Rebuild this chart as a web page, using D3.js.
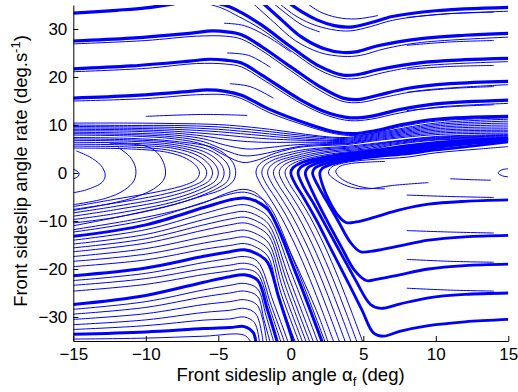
<!DOCTYPE html>
<html><head><meta charset="utf-8">
<script src="https://cdn.jsdelivr.net/npm/d3@7"></script>
<style>
body{margin:0;background:#fff;}
svg{display:block;}
text{font-family:"Liberation Sans",Arial,Helvetica,sans-serif;}
</style></head>
<body>
<svg id="c" width="518" height="392"></svg>
<script>
const xTicks = [-15,-10,-5,0,5,10,15];
const yTicks = [-30,-20,-10,0,10,20,30];

// thick upper bundles (angle deg, rate deg/s)
const upperThick = [
 [[-15,33.3],[-12,33.9],[-10,34.4],[-8,35.3]],
 [[-0.2,35.6],[0.8,33.5],[1.8,31.9],[3,30.7],[4.1,30.4],[5.5,31.3],[7,32.6],[10,33.8],[15,34.5]],
 [[-2,35.6],[-0.6,31.8],[0.7,28.4],[2.2,26],[3.6,25.1],[4.6,25.3],[6,26.5],[9,28],[12,28.7],[15,29.1]],
 [[-5.4,35.6],[-4.2,34.6],[-3.4,33.4],[-2,30.8],[0,26.3],[2,22.2],[3.6,20.4],[4.6,20.5],[6,21.5],[9,23],[12,23.6],[15,23.9]],
 [[-15,27.5],[-11,28.1],[-7,29.1],[-5.4,29.6],[-4.4,29.4],[-3.4,28.8],[-2,26.3],[0,22.1],[2,18],[3.6,15.6],[4.6,15.3],[6,16.2],[8,17.6],[11,18.6],[15,19.1]],
 [[-15,21.7],[-11,22.3],[-7,23.3],[-5.6,23.7],[-4.5,23.5],[-3.4,22.9],[-2,20.4],[0.7,15.2],[2.5,12.6],[4.1,11.5],[5.5,11.8],[7.5,13.2],[10,14.4],[15,15.2]],
 [[-15,15.6],[-11,16.1],[-7,17],[-5.8,17.3],[-4.5,17],[-3.4,16.2],[-1.5,13.3],[1.2,10.2],[3,8.6],[4.3,8.2],[5.8,8.8],[7.5,10],[10,11.2],[15,11.8]]
];
const upperThin = [
 [[-0.9,35.6],[0.2,33],[1.4,31.1],[2.8,29.9],[4.1,29.6],[5.5,30.5],[7,31.8],[10,33],[15,33.7]],
 [[-2.7,35.6],[-1.2,31.5],[0.3,27.6],[2,25.1],[3.6,24.3],[4.8,24.5],[6.5,25.9],[9,27.2],[15,28.3]],
 [[-6.2,35.6],[-4.8,34.4],[-3.6,32.6],[-2,29.9],[0,25.5],[2,21.4],[3.6,19.7],[4.8,19.8],[6.5,21],[9,22.3],[15,23.2]],
 [[-15,26.9],[-10,27.6],[-6.5,28.5],[-4.5,28.5],[-3.4,27.9],[-2,25.5],[0,21.3],[2,17.2],[3.6,14.9],[4.8,14.7],[6.5,15.8],[9,17.2],[15,18.4]],
 [[-15,21.1],[-10,21.8],[-6.5,22.8],[-4.5,22.7],[-3.4,22.1],[-2,19.6],[0.7,14.5],[2.5,12],[4.1,10.9],[5.5,11.2],[7.5,12.5],[10,13.7],[15,14.5]],
 [[-15,15],[-10,15.5],[-6.5,16.3],[-4.5,16.3],[-3.4,15.5],[-1.5,12.6],[1.2,9.7],[3,8.2],[4.3,7.8],[5.8,8.4],[7.5,9.6],[10,10.8],[15,11.5]],
 [[1,35.6],[2,33.6],[3.2,32.4],[4.5,32.1],[6,32.8]],
 [[-1.3,35.6],[-0.4,33.4],[0.8,30.8],[2,29.4]],
 [[-4.6,31.2],[-3.2,30.7],[-1.6,28.4],[0,25.2]],
 [[-4.4,25],[-2.9,24.5],[-1.4,22]],
 [[-4.2,18.6],[-2.8,18],[-1.2,15.6]]
];
// converging bundle from the left (rate 8-10 deg/s)
const bundleLines = [
 [[-15,10.4],[-11,10.4],[-8,10.3],[-5,10.1],[-2,9.3],[0,8.5],[2,7.7],[3.8,7.4],[6,8.4],[10,10.4],[15,11.2]],
 [[-15,10.0],[-11,9.9],[-8,9.9],[-5,9.6],[-2,8.8],[0,8.1],[2,7.5],[3.8,7.2],[6,8.2],[10,10.1],[15,10.8]],
 [[-15,9.7],[-11,9.6],[-8,9.5],[-5,9.1],[-2,8.3],[0,7.7],[2,7.2],[3.8,7.0],[6,8.0],[10,9.8],[15,10.4]],
 [[-15,9.4],[-11,9.3],[-8,9.1],[-5,8.6],[-2,7.8],[0,7.3],[2,6.9],[3.8,6.8],[6,7.8],[10,9.5],[15,10.0]],
 [[-15,9.1],[-11,9.0],[-8,8.7],[-5,8.0],[-2,7.2],[0,6.9],[2,6.7],[3.8,6.6],[6,7.6],[10,9.2],[15,9.6]],
 [[-15,8.8],[-11,8.7],[-8,8.3],[-6,7.7],[-4,6.8],[-2,6.4],[0,6.4],[2,6.4],[3.8,6.4],[6,7.4],[10,8.9],[15,9.2]],
 [[-15,8.5],[-11,8.3],[-8,7.9],[-6,7.1],[-4.5,5.8],[-3,5],[-1.5,5.3],[0,5.8],[2,6.1],[3.8,6.2],[6,7.2],[10,8.6],[15,8.9]],
 [[-15,8.2],[-11,8],[-8,7.5],[-6,6.5],[-4.5,4.7],[-3.3,3.6],[-2.2,3.8],[-1,4.6],[0.5,5.5],[2,5.9],[3.8,6.1],[6,7.0],[10,8.3],[15,8.6]],
 [[-15,7.9],[-11,7.7],[-8,7.1],[-6,5.9],[-4.5,3.6],[-3.3,2.2],[-2.3,2.7],[-1,4.2],[0.5,5.3],[2,5.7],[3.8,5.9],[6,6.8],[10,8.0],[15,8.3]]
];
// arcs turning back to the left of the saddle
const arcs = [
 [[-15,0.8],[-14.6,0],[-14.7,-0.8],[-15,-1.2]],
 [[-14.8,4.6],[-13.9,3.4],[-13.1,1.6],[-12.8,-0.4],[-13.0,-1.9],[-14.1,-3.5],[-15,-4.1]],
 [[-11.9,5.3],[-11.1,3.4],[-10.7,1],[-10.8,-1.5],[-11.5,-3.6],[-12.8,-5.3],[-15,-6.6]],
 [[-12.5,6.2],[-10,5.6],[-9.2,4.2],[-8.7,1.5],[-8.7,-1],[-9.3,-3],[-11,-5.3],[-15,-7.8]],
 [[-15,5.2],[-11,5.0],[-8.5,4.3],[-7.2,3],[-6.5,1.4],[-6.3,0],[-6.5,-1.3],[-7.2,-2.4],[-9,-3.8],[-12,-5.4],[-15,-7.0]],
 [[-15,5.6],[-11,5.4],[-8.3,4.7],[-6.8,3.3],[-6.0,1.5],[-5.8,0],[-6,-1.4],[-6.7,-2.6],[-8.6,-4.3],[-12,-6.2],[-15,-7.6]],
 [[-15,6.0],[-11,5.8],[-8,5.1],[-6.4,3.6],[-5.6,1.6],[-5.4,0],[-5.6,-1.5],[-6.3,-2.8],[-8.3,-4.8],[-12,-6.9],[-15,-8.3]],
 [[-15,6.4],[-11,6.2],[-8,5.5],[-6.1,3.9],[-5.2,1.7],[-5.0,0],[-5.2,-1.6],[-6,-3.1],[-8,-5.3],[-12,-7.6],[-15,-9.0]],
 [[-15,6.8],[-11,6.6],[-8,5.9],[-5.8,4.2],[-4.8,1.8],[-4.6,0],[-4.8,-1.7],[-5.6,-3.3],[-7.8,-5.8],[-12,-8.4],[-15,-9.7]],
 [[-15,7.1],[-11,6.9],[-8,6.3],[-5.5,4.6],[-4.4,2],[-4.2,0],[-4.4,-1.8],[-5.2,-3.4],[-7.6,-6.2],[-12,-9.2],[-15,-10.4]],
 [[-15,7.4],[-11,7.2],[-8,6.6],[-5.1,5],[-4.0,2.2],[-3.8,0],[-4.0,-1.8],[-4.8,-3.5],[-6,-4.7],[-8,-6.5],[-11,-8.6],[-15,-11]]
];
// lower-left family: hump near -3 deg then fall away
const lowerThick = [
 [[-15,-13.2],[-10,-10.8],[-6,-7.2],[-4.2,-5.6],[-3.2,-5.2],[-2.3,-6.0],[-1.5,-7.9],[0.3,-20.5],[2.2,-35.5]],
 [[-15,-21.4],[-10,-19.8],[-6,-17.35],[-4.2,-16.4],[-3.2,-16.0],[-2.3,-16.9],[-1.6,-18.6],[-0.8,-26.2],[0.2,-35.5]],
 [[-15,-27.4],[-10,-25.5],[-6,-22.75],[-4.2,-21.6],[-3.2,-21.2],[-2.3,-22.3],[-1.6,-28.6],[-0.9,-35.5]],
 [[-15,-33.6],[-10,-33.1],[-6,-32.4],[-4.2,-32.2],[-3.2,-32],[-2.6,-33.2],[-2.4,-35.5]]
];
const lowerThin = [
 [[-15,-11.8],[-11,-9.8],[-8,-7.9],[-6,-6.2],[-4.5,-4.3],[-3.3,-3.4],[-2.5,-4.0],[-1.8,-6.0],[-1,-10.5],[0,-16.7],[1,-23.3],[2,-30.4],[2.6,-35.5]],
 [[-15,-12.3],[-10,-9.8],[-6,-6.1],[-4.2,-4.4],[-3.2,-4.0],[-2.3,-4.9],[-1.5,-6.8],[0.4,-19.8],[2.4,-35.5]],
 [[-15,-14.0],[-10,-11.8],[-6,-8.45],[-4.2,-7.0],[-3.2,-6.6],[-2.3,-7.5],[-1.5,-9.4],[0.1,-21.3],[1.9,-35.5]],
 [[-15,-14.8],[-10,-12.8],[-6,-9.7],[-4.2,-8.4],[-3.2,-8.0],[-2.3,-8.9],[-1.5,-10.8],[-0.1,-22],[1.6,-35.5]],
 [[-15,-15.6],[-10,-13.7],[-6,-10.8],[-4.2,-9.6],[-3.2,-9.2],[-2.3,-10.1],[-1.5,-12],[-0.25,-22.7],[1.35,-35.5]],
 [[-15,-16.4],[-10,-14.6],[-6,-11.9],[-4.2,-10.8],[-3.2,-10.4],[-2.3,-11.3],[-1.5,-13.2],[-0.4,-23.3],[1.1,-35.5]],
 [[-15,-17.4],[-10,-15.75],[-6,-13.3],[-4.2,-12.3],[-3.2,-11.9],[-2.3,-12.8],[-1.5,-14.7],[-0.55,-24.1],[0.85,-35.5]],
 [[-15,-18.4],[-10,-16.9],[-6,-14.6],[-4.2,-13.7],[-3.2,-13.3],[-2.3,-14.2],[-1.5,-16.1],[-0.7,-24.8],[0.6,-35.5]],
 [[-15,-19.5],[-10,-18.1],[-6,-15.9],[-4.2,-15.1],[-3.2,-14.7],[-2.3,-15.6],[-1.55,-17.5],[-0.85,-25.6],[0.35,-35.5]],
 [[-15,-22.4],[-10,-20.9],[-6,-18.65],[-4.2,-17.8],[-3.2,-17.4],[-2.3,-18.4],[-1.2,-26.9],[-0.15,-35.5]],
 [[-15,-23.4],[-10,-22],[-6,-19.95],[-4.2,-19.2],[-3.2,-18.8],[-2.3,-19.8],[-1.35,-27.6],[-0.4,-35.5]],
 [[-15,-24.6],[-10,-23.2],[-6,-21.15],[-4.2,-20.4],[-3.2,-20],[-2.3,-21.0],[-1.45,-28.2],[-0.65,-35.5]],
 [[-15,-28.4],[-10,-26.8],[-6,-24.35],[-4.2,-23.4],[-3.2,-23],[-2.3,-24.1],[-1.7,-29.8],[-1.15,-35.5]],
 [[-15,-29.4],[-10,-28],[-6,-25.8],[-4.2,-25],[-3.2,-24.6],[-2.3,-25.7],[-1.85,-30.6],[-1.4,-35.5]],
 [[-15,-30.5],[-10,-29.3],[-6,-27.4],[-4.2,-26.8],[-3.2,-26.4],[-2.3,-27.6],[-1.65,-35.5]],
 [[-15,-31.6],[-10,-30.6],[-6,-29.05],[-4.2,-28.6],[-3.2,-28.2],[-2.4,-29.4],[-1.9,-35.5]],
 [[-15,-32.6],[-10,-31.8],[-6,-30.65],[-4.2,-30.4],[-3.2,-30],[-2.5,-31.2],[-2.15,-35.5]],
 [[-15,-34.6],[-10,-34.4],[-6,-34],[-3.2,-33.8],[-2.7,-35.5]]
];
// curves coming up from below and turning right
const cCurves = [
 [[3.0,-35.5],[2.2,-29],[1.3,-22],[0.3,-15],[-0.7,-9],[-1.5,-5],[-2.1,-2.2],[-2.4,0],[-2.25,1.5],[-1.7,2.8],[-0.6,3.9],[1,4.9],[2.5,5.3],[4,5.6],[7,6.6],[10,7.6],[15,8.0]],
 [[3.4,-35.5],[2.6,-29],[1.7,-22],[0.7,-15],[-0.3,-9],[-1.1,-5],[-1.7,-2.2],[-2.0,0],[-1.85,1.4],[-1.3,2.6],[-0.2,3.7],[1.3,4.7],[2.8,5.15],[4.3,5.45],[7,6.5],[10,7.45],[15,7.85]],
 [[3.8,-35.5],[3.0,-29],[2.1,-22],[1.1,-15],[0.1,-9],[-0.7,-5],[-1.3,-2.2],[-1.6,0],[-1.45,1.3],[-0.9,2.5],[0.2,3.5],[1.6,4.5],[3.1,5.0],[4.6,5.3],[7,6.4],[10,7.3],[15,7.7]],
 [[4.2,-35.5],[3.4,-29],[2.5,-22],[1.5,-15],[0.5,-9],[-0.3,-5],[-0.9,-2.2],[-1.2,0],[-1.05,1.2],[-0.5,2.4],[0.6,3.4],[2,4.3],[3.4,4.8],[4.9,5.15],[7,6.2],[10,7.15],[15,7.55]],
 [[4.6,-35.5],[3.8,-29],[2.9,-22],[1.9,-15],[0.9,-9],[0.1,-5],[-0.5,-2.2],[-0.8,0],[-0.65,1.2],[-0.1,2.3],[1,3.3],[2.4,4.2],[3.8,4.65],[5.2,5.0],[7,6.0],[10,7],[15,7.4]],
 [[5.0,-35.5],[4.2,-29],[3.3,-22],[2.3,-15],[1.3,-9],[0.5,-5],[-0.1,-2.2],[-0.4,0],[-0.25,1.1],[0.3,2.2],[1.4,3.2],[2.8,4],[4.2,4.5],[5.5,4.9],[7,5.8],[10,6.85],[15,7.25]],
 [[9.5,-2.0],[7,-2.6],[5.3,-3.3],[4.2,-3.0],[3.2,-1.7],[2.6,0],[2.8,1.2],[3.5,2.0],[4.5,2.5],[6,2.9],[8,3.3],[10,4.2],[13,5.0],[15,5.5]],
 [[6.5,-3.3],[5.2,-3.1],[4.2,-2.3],[3.4,-1.0],[3.1,0.4],[3.4,1.4],[4.2,2.0],[5.5,2.3],[6.5,2.4]]
];
// lower-right bundles
const lowerRightThick = [
 [[15,-30.5],[12,-31],[9.5,-31.8],[7.5,-33],[6.4,-34],[5.7,-33.3],[4.9,-28.5],[3.9,-22.5],[2.8,-16],[1.8,-10],[0.9,-5.2],[0.3,-2.2],[0,0],[0.15,1.1],[0.7,2.1],[1.8,3],[3.2,3.8],[4.6,4.3],[6,4.8],[8,5.7],[11,6.6],[15,7.1]],
 [[15,-25],[12,-25.3],[9.5,-26],[7.5,-27.3],[6.2,-28.2],[5.5,-27.4],[4.5,-22.5],[3.5,-17],[2.5,-11.5],[1.6,-6.5],[0.9,-3],[0.5,0],[0.65,1.1],[1.2,2],[2.3,2.9],[3.7,3.6],[5,4.1],[6.5,4.6],[8.5,5.5],[11,6.4],[15,7.0]],
 [[15,-19],[12,-19.3],[9.5,-20],[7.5,-21.2],[6,-22.1],[5.2,-22.4],[4.4,-20.3],[3.5,-15.5],[2.6,-10.5],[1.8,-5.8],[1.3,-2.6],[1.0,0],[1.15,1.0],[1.7,1.9],[2.8,2.7],[4.1,3.4],[5.4,3.9],[7,4.4],[9,5.3],[11.5,6.2],[15,6.9]],
 [[15,-13],[12,-13.3],[9.5,-14],[7.5,-15.2],[5.8,-16.2],[4.8,-16.4],[4.1,-14.4],[3.3,-10.2],[2.5,-6],[1.9,-2.8],[1.5,0],[1.65,1.0],[2.2,1.8],[3.2,2.6],[4.5,3.2],[5.8,3.7],[7.5,4.2],[9.5,5.1],[12,6],[15,6.8]],
 [[15,-5.6],[12,-5.9],[9.5,-6.5],[7.5,-7.7],[5.8,-9.2],[4.5,-10.2],[3.8,-10.3],[3.2,-8.6],[2.6,-5.5],[2.2,-2.6],[2.0,0],[2.15,0.9],[2.7,1.7],[3.6,2.4],[4.8,3],[6.2,3.5],[8,4],[10,4.8],[12.5,5.6],[15,6.5]]
];
// short streamline pieces
const segments = [
 [[11,-1.2],[12.5,-1.4],[13.8,-1.5]],
 [[15,0.9],[14.5,0.6],[14.3,0],[14.6,-0.6],[15,-0.8]],
 [[8,32.4],[11,33.2],[14,33.5]],
 [[8,26.6],[11,27.3],[14,27.6]],
 [[8,21.6],[11,22.2],[14,22.4]],
 [[8,16.8],[11,17.6],[14,18]],
 [[8,13],[11,13.8],[14,14.2]],
 [[-10,11.8],[-6,12.2],[-3,12]],
 [[8,-4.6],[11,-4.9],[14,-5.1]],
 [[8,-12],[11,-12.3],[14,-12.5]],
 [[8,-18],[11,-18.4],[14,-18.6]],
 [[8,-24],[11,-24.4],[14,-24.6]]
];

const svg = d3.select('#c');
const x = d3.scaleLinear().domain([-15,15]).range([73.3,508.3]);
const y = d3.scaleLinear().domain([-35,35]).range([341,5]);

svg.append('clipPath').attr('id','clip').append('rect')
  .attr('x',x(-15)).attr('y',y(35)).attr('width',x(15)-x(-15)).attr('height',y(-35)-y(35));

const line = d3.line().x(d=>x(d[0])).y(d=>y(d[1])).curve(d3.curveCatmullRom.alpha(0.5));
const g = svg.append('g').attr('clip-path','url(#clip)');
function draw(arr, w){
  g.append('g').selectAll('path').data(arr).join('path')
   .attr('d',line).attr('fill','none').attr('stroke','#0000ff')
   .attr('stroke-width',w).attr('stroke-linejoin','round');
}
draw(upperThick,3.2);
draw(upperThin,1);
draw(bundleLines,1);
draw(arcs,1);
draw(lowerThick,3);
draw(lowerThin,1);
draw(cCurves,1);
draw(lowerRightThick,2.8);
draw(segments,1);

const fs = 17;
const xa = svg.append('g').attr('transform',`translate(0,${y(-35)})`)
  .call(d3.axisBottom(x).tickValues(xTicks).tickSizeInner(-5).tickSizeOuter(0).tickPadding(7));
const ya = svg.append('g').attr('transform',`translate(${x(-15)},0)`)
  .call(d3.axisLeft(y).tickValues(yTicks).tickSizeInner(-5).tickSizeOuter(0).tickPadding(6));
[xa,ya].forEach(a=>{
  a.selectAll('text').attr('font-size',fs).attr('fill','#000')
   .style('font-family','"Liberation Sans",Arial,sans-serif');
  a.selectAll('line').attr('stroke','#000');
  a.select('.domain').attr('stroke','#000');
});

const xt = svg.append('text').attr('x',290.5).attr('y',381).attr('text-anchor','middle')
  .attr('font-size',18.5).attr('fill','#000');
xt.append('tspan').text('Front sideslip angle α');
xt.append('tspan').attr('font-size',13).attr('dy',5).text('f');
xt.append('tspan').attr('dy',-5).text(' (deg)');

const yt = svg.append('text').attr('transform','translate(27,171) rotate(-90)')
  .attr('text-anchor','middle').attr('font-size',18.5).attr('fill','#000');
yt.append('tspan').text('Front sideslip angle rate (deg.s');
yt.append('tspan').attr('font-size',13).attr('dy',-7).text('-1');
yt.append('tspan').attr('dy',7).text(')');
</script>
</body></html>
